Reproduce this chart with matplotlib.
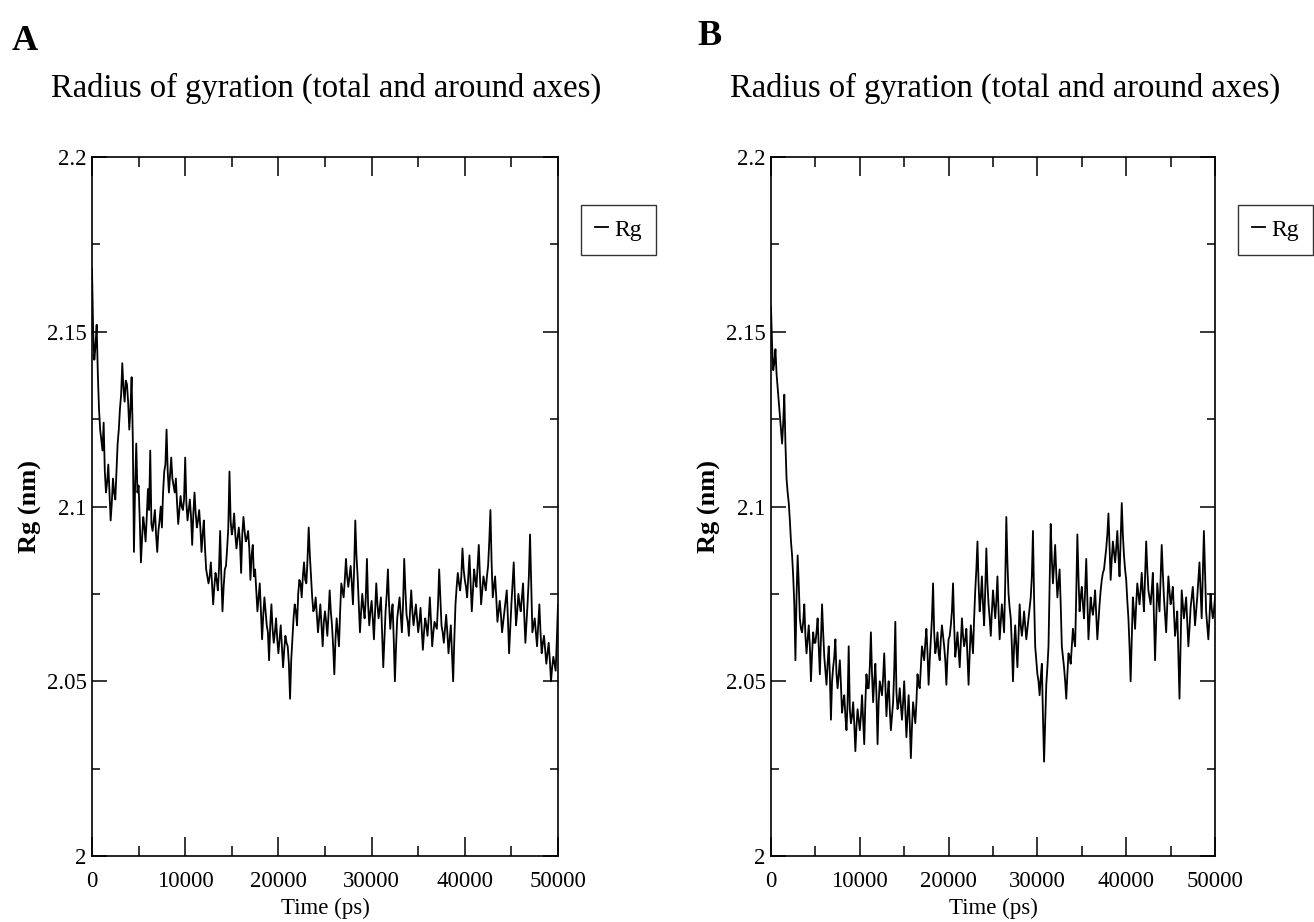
import numpy as np
import matplotlib
matplotlib.use("Agg")
import matplotlib.pyplot as plt
from matplotlib.ticker import MultipleLocator

# time axis (ps): samples every 250 ps, plus the in-between samples at +125 ps
time_ps = np.arange(0, 50001, 250)
time_mid = np.arange(125, 50000, 250)

# Rg (nm), panel A (extremes of the trace)
rg_a = [
    2.168, 2.142, 2.152, 2.128, 2.119, 2.124, 2.104, 2.112, 2.096, 2.108,
    2.102, 2.118, 2.128, 2.141, 2.130, 2.135, 2.122, 2.137, 2.087, 2.118,
    2.106, 2.084, 2.097, 2.090, 2.105, 2.116, 2.093, 2.099, 2.087, 2.096,
    2.094, 2.110, 2.122, 2.104, 2.114, 2.106, 2.108, 2.095, 2.103, 2.099,
    2.114, 2.096, 2.102, 2.089, 2.104, 2.094, 2.099, 2.087, 2.096, 2.082,
    2.078, 2.084, 2.072, 2.081, 2.076, 2.093, 2.070, 2.082, 2.088, 2.110,
    2.092, 2.098, 2.088, 2.094, 2.081, 2.097, 2.090, 2.093, 2.079, 2.089,
    2.082, 2.070, 2.078, 2.062, 2.074, 2.066, 2.056, 2.072, 2.061, 2.068,
    2.058, 2.066, 2.054, 2.063, 2.060, 2.045, 2.062, 2.072, 2.066, 2.079,
    2.074, 2.084, 2.078, 2.094, 2.080, 2.070, 2.074, 2.064, 2.072, 2.060,
    2.070, 2.063, 2.076, 2.066, 2.052, 2.068, 2.060, 2.078, 2.074, 2.085,
    2.077, 2.083, 2.072, 2.096, 2.080, 2.064, 2.075, 2.068, 2.085, 2.066,
    2.073, 2.062, 2.078, 2.068, 2.074, 2.054, 2.070, 2.082, 2.065, 2.072,
    2.050, 2.068, 2.074, 2.064, 2.085, 2.069, 2.063, 2.076, 2.066, 2.072,
    2.064, 2.071, 2.059, 2.068, 2.063, 2.074, 2.060, 2.067, 2.065, 2.082,
    2.066, 2.061, 2.069, 2.058, 2.066, 2.050, 2.072, 2.081, 2.076, 2.088,
    2.079, 2.074, 2.086, 2.070, 2.082, 2.077, 2.089, 2.072, 2.080, 2.076,
    2.083, 2.099, 2.074, 2.080, 2.067, 2.073, 2.064, 2.070, 2.076, 2.058,
    2.072, 2.084, 2.066, 2.075, 2.070, 2.078, 2.061, 2.073, 2.092, 2.064,
    2.068, 2.060, 2.072, 2.058, 2.063, 2.055, 2.061, 2.050, 2.057, 2.053,
    2.072,
]
# panel A, in-between samples (core of the band)
rg_a_mid = [
    2.150, 2.146, 2.138, 2.122, 2.116, 2.110, 2.107, 2.104, 2.101, 2.104,
    2.110, 2.122, 2.132, 2.134, 2.136, 2.130, 2.128, 2.120, 2.106, 2.104,
    2.096, 2.091, 2.094, 2.097, 2.099, 2.095, 2.096, 2.092, 2.093, 2.100,
    2.104, 2.112, 2.110, 2.109, 2.108, 2.104, 2.101, 2.099, 2.100, 2.102,
    2.101, 2.099, 2.097, 2.098, 2.098, 2.096, 2.094, 2.092, 2.088, 2.080,
    2.080, 2.078, 2.077, 2.079, 2.082, 2.080, 2.077, 2.083, 2.094, 2.096,
    2.094, 2.092, 2.091, 2.090, 2.092, 2.093, 2.091, 2.088, 2.086, 2.080,
    2.076, 2.074, 2.070, 2.069, 2.070, 2.064, 2.066, 2.065, 2.064, 2.062,
    2.062, 2.060, 2.059, 2.061, 2.055, 2.056, 2.068, 2.070, 2.075, 2.078,
    2.080, 2.079, 2.085, 2.086, 2.074, 2.071, 2.069, 2.068, 2.066, 2.067,
    2.067, 2.069, 2.070, 2.060, 2.062, 2.064, 2.070, 2.076, 2.079, 2.080,
    2.080, 2.078, 2.082, 2.086, 2.072, 2.070, 2.071, 2.074, 2.072, 2.070,
    2.068, 2.070, 2.072, 2.071, 2.064, 2.062, 2.075, 2.072, 2.069, 2.062,
    2.060, 2.071, 2.069, 2.072, 2.076, 2.067, 2.070, 2.070, 2.069, 2.068,
    2.067, 2.065, 2.064, 2.066, 2.068, 2.067, 2.064, 2.066, 2.072, 2.074,
    2.064, 2.065, 2.064, 2.062, 2.058, 2.062, 2.077, 2.078, 2.080, 2.082,
    2.077, 2.080, 2.078, 2.076, 2.079, 2.083, 2.080, 2.076, 2.078, 2.080,
    2.090, 2.084, 2.077, 2.074, 2.070, 2.069, 2.067, 2.073, 2.068, 2.065,
    2.078, 2.074, 2.070, 2.072, 2.074, 2.069, 2.067, 2.080, 2.078, 2.066,
    2.064, 2.066, 2.064, 2.061, 2.059, 2.058, 2.056, 2.054, 2.055, 2.062,
]

# Rg (nm), panel B
rg_b = [
    2.157, 2.139, 2.145, 2.134, 2.126, 2.118, 2.132, 2.108, 2.101, 2.090,
    2.080, 2.056, 2.086, 2.068, 2.064, 2.072, 2.058, 2.066, 2.050, 2.064,
    2.061, 2.068, 2.052, 2.072, 2.057, 2.049, 2.060, 2.039, 2.054, 2.062,
    2.048, 2.056, 2.041, 2.046, 2.036, 2.060, 2.038, 2.044, 2.030, 2.042,
    2.036, 2.046, 2.032, 2.052, 2.048, 2.064, 2.044, 2.055, 2.032, 2.050,
    2.046, 2.058, 2.040, 2.050, 2.036, 2.044, 2.067, 2.042, 2.048, 2.039,
    2.050, 2.034, 2.046, 2.028, 2.044, 2.038, 2.052, 2.048, 2.060, 2.056,
    2.065, 2.049, 2.062, 2.078, 2.058, 2.064, 2.056, 2.066, 2.060, 2.049,
    2.062, 2.066, 2.078, 2.057, 2.064, 2.054, 2.068, 2.060, 2.065, 2.049,
    2.066, 2.058, 2.076, 2.090, 2.070, 2.080, 2.066, 2.088, 2.072, 2.063,
    2.076, 2.068, 2.080, 2.062, 2.072, 2.064, 2.097, 2.075, 2.068, 2.050,
    2.066, 2.054, 2.072, 2.063, 2.070, 2.062, 2.068, 2.074, 2.093, 2.060,
    2.052, 2.046, 2.055, 2.027, 2.049, 2.060, 2.095, 2.078, 2.089, 2.074,
    2.082, 2.060, 2.054, 2.045, 2.058, 2.055, 2.065, 2.060, 2.092, 2.070,
    2.077, 2.068, 2.085, 2.062, 2.074, 2.069, 2.076, 2.062, 2.072, 2.079,
    2.082, 2.088, 2.098, 2.079, 2.090, 2.084, 2.093, 2.080, 2.101, 2.086,
    2.079, 2.068, 2.050, 2.074, 2.065, 2.078, 2.072, 2.081, 2.070, 2.090,
    2.076, 2.072, 2.081, 2.056, 2.078, 2.070, 2.089, 2.074, 2.064, 2.080,
    2.072, 2.077, 2.063, 2.070, 2.045, 2.076, 2.068, 2.074, 2.060, 2.071,
    2.077, 2.066, 2.074, 2.084, 2.068, 2.093, 2.070, 2.062, 2.075, 2.068,
    2.074,
]
rg_b_mid = [
    2.146, 2.141, 2.138, 2.130, 2.122, 2.124, 2.118, 2.104, 2.096, 2.086,
    2.072, 2.074, 2.078, 2.065, 2.067, 2.063, 2.062, 2.060, 2.058, 2.061,
    2.064, 2.060, 2.062, 2.064, 2.053, 2.055, 2.052, 2.050, 2.057, 2.052,
    2.052, 2.049, 2.044, 2.040, 2.044, 2.042, 2.040, 2.038, 2.037, 2.039,
    2.040, 2.039, 2.044, 2.048, 2.054, 2.052, 2.050, 2.046, 2.044, 2.048,
    2.051, 2.049, 2.046, 2.042, 2.040, 2.053, 2.047, 2.044, 2.043, 2.044,
    2.042, 2.040, 2.038, 2.037, 2.041, 2.044, 2.049, 2.054, 2.058, 2.061,
    2.058, 2.056, 2.068, 2.064, 2.060, 2.058, 2.062, 2.063, 2.056, 2.057,
    2.063, 2.070, 2.066, 2.060, 2.059, 2.061, 2.063, 2.062, 2.057, 2.058,
    2.062, 2.068, 2.082, 2.078, 2.074, 2.072, 2.076, 2.078, 2.068, 2.070,
    2.072, 2.073, 2.070, 2.067, 2.068, 2.078, 2.084, 2.071, 2.060, 2.060,
    2.060, 2.063, 2.066, 2.066, 2.066, 2.065, 2.071, 2.080, 2.074, 2.056,
    2.050, 2.051, 2.040, 2.038, 2.054, 2.078, 2.085, 2.083, 2.081, 2.078,
    2.072, 2.057, 2.050, 2.052, 2.057, 2.060, 2.062, 2.075, 2.080, 2.074,
    2.072, 2.076, 2.073, 2.068, 2.071, 2.072, 2.069, 2.067, 2.076, 2.081,
    2.085, 2.092, 2.088, 2.085, 2.087, 2.088, 2.086, 2.091, 2.092, 2.082,
    2.073, 2.060, 2.062, 2.070, 2.072, 2.075, 2.076, 2.075, 2.080, 2.082,
    2.074, 2.076, 2.068, 2.067, 2.074, 2.080, 2.081, 2.069, 2.072, 2.076,
    2.074, 2.070, 2.066, 2.058, 2.060, 2.072, 2.071, 2.067, 2.065, 2.074,
    2.072, 2.070, 2.079, 2.076, 2.080, 2.081, 2.066, 2.068, 2.071, 2.070,
]

x_ticks = [0, 10000, 20000, 30000, 40000, 50000]
y_ticks = [2.0, 2.05, 2.1, 2.15, 2.2]
y_ticklabels = ["2", "2.05", "2.1", "2.15", "2.2"]
title = "Radius of gyration (total and around axes)"

plt.rcParams['font.family'] = ['Liberation Serif', 'DejaVu Serif']

W, H = 1314, 922
fig = plt.figure(figsize=(W / 100, H / 100), dpi=100)

#%% panel geometry in pixels: (left, right, top, bottom)
panels = [
    ("A", rg_a, rg_a_mid, (92, 558, 157, 856), 326, (12, 50)),
    ("B", rg_b, rg_b_mid, (771, 1215, 157, 856), 1005, (697, 45)),
]

for letter, rg, rg_mid, (l, r, t, b), tcx, (lx, ly) in panels:
    tt = np.concatenate([time_ps, time_mid])
    yy = np.concatenate([rg, rg_mid])
    order = np.argsort(tt, kind='stable')

    ax = fig.add_axes([l / W, 1 - b / H, (r - l) / W, (b - t) / H])
    ax.plot(tt[order], yy[order], color='black', lw=1.3, label='Rg')
    ax.set_xlim(0, 50000)
    ax.set_ylim(2.0, 2.2)
    ax.set_xticks(x_ticks)
    ax.set_yticks(y_ticks)
    ax.set_yticklabels(y_ticklabels)
    ax.xaxis.set_minor_locator(MultipleLocator(5000))
    ax.yaxis.set_minor_locator(MultipleLocator(0.025))
    ax.tick_params(axis='both', which='both', direction='in', top=True, right=True,
                   width=1.1, labelsize=16.5, colors='black')
    ax.tick_params(axis='x', which='major', length=14, pad=11)
    ax.tick_params(axis='x', which='minor', length=7)
    ax.tick_params(axis='y', which='major', length=11, pad=4)
    ax.tick_params(axis='y', which='minor', length=6)
    for sp in ax.spines.values():
        sp.set_linewidth(1.2)
    ax.set_xlabel("Time (ps)", fontsize=16.5, labelpad=4)
    ax.set_ylabel("Rg (nm)", fontsize=19, fontweight='bold', labelpad=3)

    leg = ax.legend(loc='upper left', bbox_to_anchor=(1 + 23 / (r - l), 1 - 48 / (b - t)),
                    borderaxespad=0, fontsize=17, handlelength=0.55, handletextpad=0.25,
                    borderpad=0.6, fancybox=False, frameon=True)
    leg.get_frame().set_edgecolor('black')
    leg.get_frame().set_linewidth(1.0)

    fig.text(tcx / W, 1 - 97 / H, title, ha='center', va='baseline', fontsize=23.5)
    fig.text(lx / W, 1 - ly / H, letter, ha='left', va='baseline', fontsize=26,
             fontweight='bold')

fig.savefig("out.png", dpi=100)
